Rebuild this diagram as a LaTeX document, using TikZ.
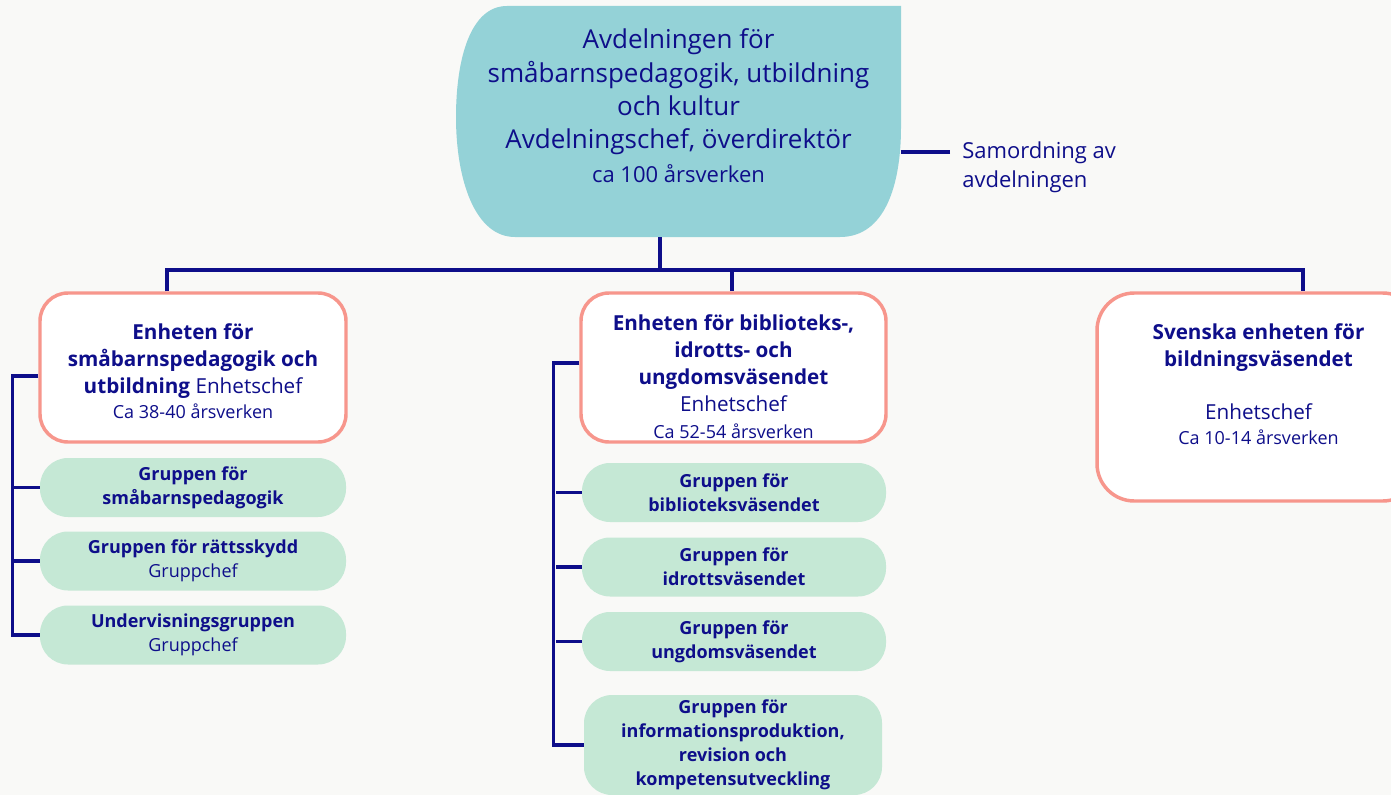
\documentclass[tikz,border=0pt]{standalone}
\usepackage{fontspec}
\setmainfont{Open Sans}
\usetikzlibrary{positioning,calc}

\definecolor{navy}{RGB}{14,14,138}
\definecolor{pageback}{RGB}{249,249,247}
\definecolor{headteal}{RGB}{148,210,215}
\definecolor{unitpink}{RGB}{247,150,140}
\definecolor{groupgreen}{RGB}{197,232,213}

\begin{document}
\begin{tikzpicture}[
    x=0.75pt, y=-0.75pt,
    every node/.style={text=navy, align=center, inner sep=0pt,
                       font=\fontsize{15.5}{20.25}\selectfont},
    unitbox/.style={draw=unitpink, line width=2.6pt, fill=white,
                    rounded corners=21pt, minimum width=229.5pt, minimum height=111.75pt},
    groupbox/.style={fill=groupgreen, rounded corners=21pt, minimum width=228pt,
                     minimum height=44.25pt, font=\fontsize{13.5}{18}\selectfont},
    link/.style={draw=navy, line width=2.5pt}
]
  \newcommand\workyears[1]{{\fontsize{13.5}{18}\selectfont #1}}
  \path[use as bounding box, fill=pageback] (0,0) rectangle (1391,795);
  \clip (0,0) rectangle (1391,795);

  % department head
  \fill[headteal] (901,6) -- (507,6) .. controls (470,6) and (456,60) .. (456,117)
       .. controls (456,180) and (475,237) .. (515,237) -- (840,237)
       .. controls (885,237) and (901,185) .. (901,127) -- cycle;
  \node[minimum width=333pt, minimum height=173.25pt, font=\fontsize{19.5}{25}\selectfont]
    (top) at (678.5,121.5) {Avdelningen för\\småbarnspedagogik, utbildning\\och kultur\\
    Avdelningschef, överdirektör\\{\fontsize{16.5}{25}\selectfont ca 100 årsverken}\\[-1pt]\mbox{}};
  \node[anchor=west, inner xsep=9pt, align=left, font=\fontsize{16.5}{21.75}\selectfont]
    (note) at (950,167.5) {Samordning av\\avdelningen};
  \draw[link] (note.west) ++(0,-15.5) coordinate (samline) -- (samline -| top.east);

  % units
  \node[unitbox] (u1) at (193,367.5) {\mbox{}\\[-3.5pt]\textbf{Enheten för}\\\textbf{småbarnspedagogik och}\\
    \textbf{utbildning} Enhetschef\\[-1.5pt]\workyears{Ca 38-40 årsverken}};
  \node[unitbox, minimum width=228.75pt] (u2) at (733.5,367.5) {\mbox{}\\[5.25pt]\textbf{Enheten för biblioteks-,}\\
    \textbf{idrotts- och}\\\textbf{ungdomsväsendet}\\Enhetschef\\
    \workyears{Ca 52-54 årsverken}};
  \node[unitbox, rounded corners=28pt, minimum width=242.25pt, minimum height=156pt]
    (u3) at (1258.5,397) {\textbf{Svenska enheten för}\\\textbf{bildningsväsendet}\\[19.5pt]
    Enhetschef\\[-1.5pt]\workyears{Ca 10-14 årsverken}\\[-0.75pt]\mbox{}};

  \coordinate (bus) at (660,270);
  \coordinate (d1) at (167,270);
  \coordinate (d2) at (732,270);
  \coordinate (d3) at (1303,270);
  \draw[link] (top.south -| bus) -- (bus);
  \draw[link] (u1.north -| d1) -- (d1) -- (d3) -- (u3.north -| d3);
  \draw[link] (d2) -- (u2.north -| d2);

  % groups, first unit
  \node[groupbox, minimum width=229.5pt] (g1) at (193,487.5) {\textbf{Gruppen för}\\\textbf{småbarnspedagogik}};
  \node[groupbox, minimum width=229.5pt] (g2) at (193,561) {\textbf{Gruppen för rättsskydd}\\Gruppchef};
  \node[groupbox, minimum width=229.5pt] (g3) at (193,635) {\textbf{Undervisningsgruppen}\\Gruppchef};
  \draw[link] ($(u1.west)+(0,8.5)$) -- ++(-26,0) |- (g3.west);
  \draw[link] (g1.west) -- ++(-26,0);
  \draw[link] (g2.west) -- ++(-26,0);

  % groups, second unit
  \node[groupbox] (m1) at (734,492.5) {\textbf{Gruppen för}\\\textbf{biblioteksväsendet}};
  \node[groupbox] (m2) at (734,567) {\textbf{Gruppen för}\\\textbf{idrottsväsendet}};
  \node[groupbox] (m3) at (734,641.5) {\textbf{Gruppen för}\\\textbf{ungdomsväsendet}};
  \node[groupbox, minimum width=223.5pt, minimum height=75pt] (m4) at (733,745)
    {\textbf{Gruppen för}\\\textbf{informationsproduktion,}\\\textbf{revision och}\\\textbf{kompetensutveckling}};
  \draw[link] ($(u2.west)+(0,-4.5)$) -- ++(-26,0) |- (m4.west);
  \foreach \g in {m1,m2,m3}
    \draw[link] (\g.west) -- ++(-26,0);
\end{tikzpicture}
\end{document}
